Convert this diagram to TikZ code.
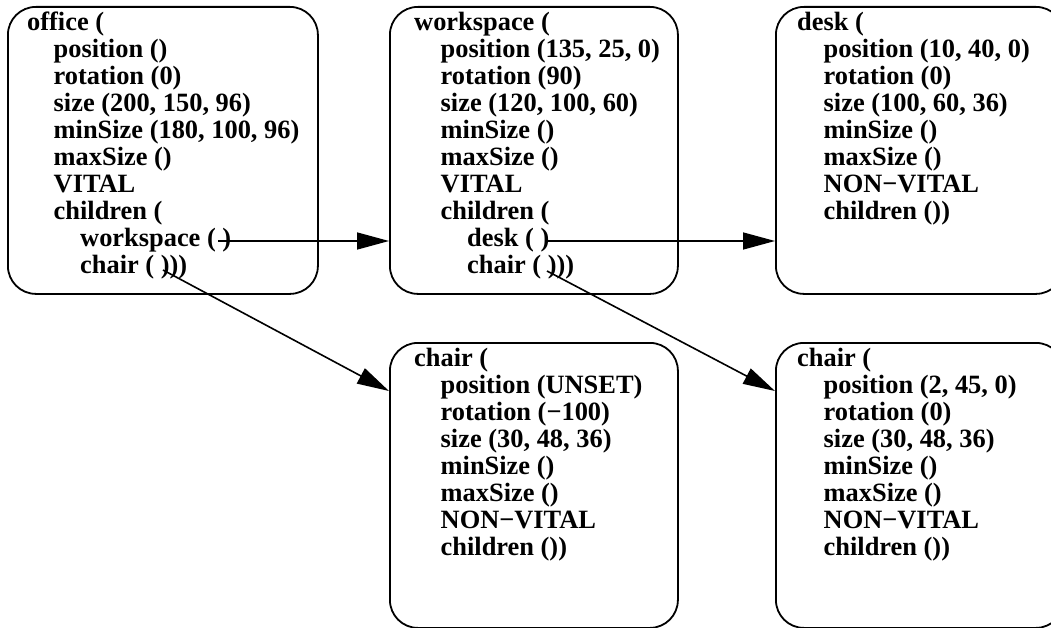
\documentclass[tikz,border=0pt]{standalone}
\usepackage{fontspec}
\setmainfont{Liberation Serif}
\usetikzlibrary{arrows.meta,calc}
% indentation levels and a strut fixing the first baseline
\newcommand\levelone{\hspace*{26.5pt}}
\newcommand\leveltwo{\hspace*{53pt}}
\newcommand\firststrut{\rule{0pt}{20pt}}
\begin{document}
\begin{tikzpicture}[x=1pt,y=-1pt,
  box/.style={draw, line width=1.8pt, rounded corners=28pt, anchor=north west,
              inner sep=0pt, minimum width=288pt, minimum height=287pt},
  txt/.style={anchor=north west, inner sep=0pt, align=left,
              font=\fontsize{26.4pt}{27pt}\selectfont\bfseries},
  conn/.style={line width=1.6pt, -{Triangle[length=32pt,width=17pt]}}]
\useasboundingbox (0,0) rectangle (1051,628);
\clip (0,0) rectangle (1051,628);

% frames
\node[box, minimum width=310pt] (office) at (7,6) {};
\node[box] (work) at (389,6) {};
\node[box] (desk) at (775,6) {};
\node[box, minimum height=285pt] (chairA) at (389,342) {};
\node[box, minimum height=285pt] (chairB) at (775,342) {};

% contents
\node[txt] (officetext) at (27,10) {\firststrut office (\\
\levelone position ()\\
\levelone rotation (0)\\
\levelone size (200, 150, 96)\\
\levelone minSize (180, 100, 96)\\
\levelone maxSize ()\\
\levelone VITAL\\
\levelone children (\\
\leveltwo workspace ( )\\
\leveltwo chair ( )))};

\node[txt] (worktext) at (414,10) {\firststrut workspace (\\
\levelone position (135, 25, 0)\\
\levelone rotation (90)\\
\levelone size (120, 100, 60)\\
\levelone minSize ()\\
\levelone maxSize ()\\
\levelone VITAL\\
\levelone children (\\
\leveltwo desk ( )\\
\leveltwo chair ( )))};

\node[txt] (desktext) at (797,10) {\firststrut desk (\\
\levelone position (10, 40, 0)\\
\levelone rotation (0)\\
\levelone size (100, 60, 36)\\
\levelone minSize ()\\
\levelone maxSize ()\\
\levelone NON−VITAL\\
\levelone children ())};

\node[txt] (chairAtext) at (414,346.5) {\firststrut chair (\\
\levelone position (UNSET)\\
\levelone rotation (−100)\\
\levelone size (30, 48, 36)\\
\levelone minSize ()\\
\levelone maxSize ()\\
\levelone NON−VITAL\\
\levelone children ())};

\node[txt] (chairBtext) at (797,346.5) {\firststrut chair (\\
\levelone position (2, 45, 0)\\
\levelone rotation (0)\\
\levelone size (30, 48, 36)\\
\levelone minSize ()\\
\levelone maxSize ()\\
\levelone NON−VITAL\\
\levelone children ())};

% references from the children lists
\coordinate (ows) at (218,241);
\coordinate (och) at (163,270);
\coordinate (wdk) at (546,241);
\coordinate (wch) at (547,271);

\draw[conn] (ows) -- (ows -| work.west);
\draw[conn] (wdk) -- (wdk -| desk.west);
\draw[conn] (och) -- ($(chairA.north west)+(0,49)$);
\draw[conn] (wch) -- ($(chairB.north west)+(0,49)$);
\end{tikzpicture}
\end{document}
